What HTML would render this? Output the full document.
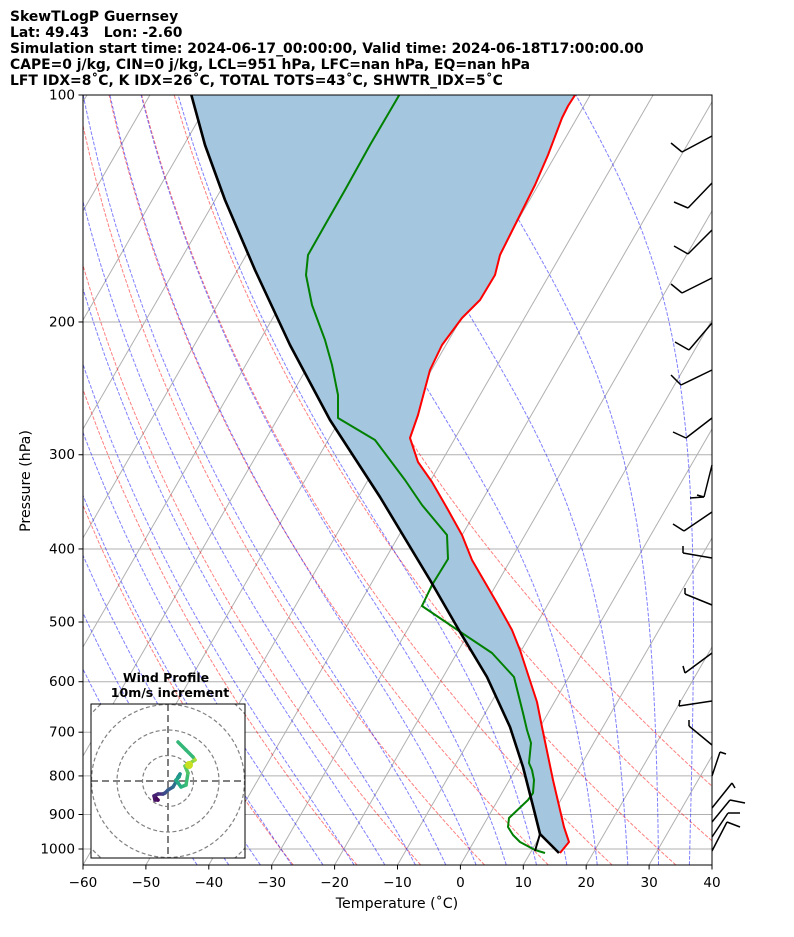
<!DOCTYPE html>
<html><head><meta charset="utf-8">
<style>
html,body{margin:0;padding:0;background:#fff;}
svg{display:block;font-family:"DejaVu Sans","Liberation Sans",sans-serif;}
text{white-space:pre;}
</style></head>
<body>
<svg id="s" width="794" height="937" viewBox="0 0 794 937" xmlns="http://www.w3.org/2000/svg">
<defs><clipPath id="pc"><rect x="83" y="95" width="629" height="770"/></clipPath>
<clipPath id="hc"><rect x="91" y="704" width="154" height="154"/></clipPath></defs>
<g font-weight="bold" font-size="13.9" fill="#000">
<text x="10" y="21">SkewTLogP Guernsey</text>
<text x="10" y="37" xml:space="preserve">Lat: 49.43   Lon: -2.60</text>
<text x="10" y="53">Simulation start time: 2024-06-17_00:00:00, Valid time: 2024-06-18T17:00:00.00</text>
<text x="10" y="69">CAPE=0 j/kg, CIN=0 j/kg, LCL=951 hPa, LFC=nan hPa, EQ=nan hPa</text>
<text x="10" y="85">LFT IDX=8˚C, K IDX=26˚C, TOTAL TOTS=43˚C, SHWTR_IDX=5˚C</text>
</g>
<g id="plot" clip-path="url(#pc)"></g>
<g id="over"></g>
</svg>
<script>
const NS="http://www.w3.org/2000/svg";
const plot=document.getElementById('plot'),over=document.getElementById('over');
function el(p,tag,a,txt){const e=document.createElementNS(NS,tag);for(const k in a)e.setAttribute(k,a[k]);if(txt!==undefined)e.textContent=txt;p.appendChild(e);return e;}
const Y=p=>95+754*Math.log10(p/100);
const X=(T,y)=>83+(T+60)*6.29+0.577*(865-y);
function pathPts(pts){return pts.map((q,i)=>(i?'L':'M')+q[0].toFixed(1)+' '+q[1].toFixed(1)).join(' ');}
for(let p=100;p<=1000;p+=100){const y=Y(p);el(plot,'line',{x1:83,x2:712,y1:y,y2:y,stroke:'#b0b0b0','stroke-width':1});}
for(let T=-200;T<=40;T+=10){el(plot,'line',{x1:X(T,865),y1:865,x2:X(T,95),y2:95,stroke:'#b0b0b0','stroke-width':1});}
const ps=[];for(let p=1050;p>=100;p-=10)ps.push(p);
for(let t0=-30;t0<=50;t0+=10){const th=t0+273.15;const pts=ps.map(p=>{const y=Y(p);return [X(th*Math.pow(p/1000,0.2857)-273.15,y),y];});
el(plot,'path',{d:pathPts(pts),fill:'none',stroke:'red','stroke-opacity':0.5,'stroke-width':1,'stroke-dasharray':'3.7,1.6'});}
function dTdp(p,T){const es=6.112*Math.exp(17.67*(T-273.15)/(T-29.65));const rs=0.622*es/(p-es);const Rd=287.04,Lv=2.501e6,Cp=1005.7;
return (Rd*T+Lv*rs)/p/(Cp+Lv*Lv*rs*0.622/(Rd*T*T));}
function moist(t0){let T=t0+273.15,p=1000;const up=[[p,T]];while(p>100){const h=-2;const k1=dTdp(p,T),k2=dTdp(p+h/2,T+h/2*k1);T+=h*k2;p+=h;up.push([p,T]);}
T=t0+273.15;p=1000;const dn=[];while(p<1050){const h=2;const k1=dTdp(p,T),k2=dTdp(p+h/2,T+h/2*k1);T+=h*k2;p+=h;dn.unshift([p,T]);}
return dn.concat(up).map(a=>{const y=Y(a[0]);return [X(a[1]-273.15,y),y];});}
for(let t0=-45;t0<=35;t0+=5){el(plot,'path',{d:pathPts(moist(t0)),fill:'none',stroke:'blue','stroke-opacity':0.5,'stroke-width':1,'stroke-dasharray':'3.7,1.6'});}
const temp=[[560,853],[569,842],[564,827],[553,780],[542,727],[537,702],[520,650],[512,630],[497,603],[472,560],[462,535],[447,508],[432,482],[418,462],[410,438],[418,415],[430,370],[442,345],[462,318],[480,300],[495,275],[500,255],[510,235],[520,215],[535,185],[548,155],[562,118],[568,106],[577,92]];
const parcel=[[559,853],[540,834],[534,810],[523,767],[510,727],[487,677],[460,632],[430,580],[380,497],[330,420],[290,345],[255,270],[225,200],[205,145],[190,90]];
const dew=[[545,853],[535,850],[520,842],[513,835],[508,827],[509,818],[528,800],[533,793],[534,780],[532,770],[529,763],[531,743],[527,730],[523,713],[514,677],[492,653],[462,633],[422,606],[432,585],[448,559],[447,535],[422,505],[405,480],[375,440],[338,418],[338,395],[332,365],[325,340],[312,305],[306,275],[308,255],[325,225],[345,190],[370,145],[401,92]];
el(plot,'path',{d:pathPts(temp.concat(parcel.slice().reverse()))+'Z',fill:'#a4c7df',stroke:'none'});
el(plot,'path',{d:pathPts(temp),fill:'none',stroke:'red','stroke-width':2,'stroke-linejoin':'round'});
el(plot,'path',{d:pathPts(dew),fill:'none',stroke:'green','stroke-width':2,'stroke-linejoin':'round'});
el(plot,'path',{d:pathPts(parcel),fill:'none',stroke:'black','stroke-width':2.6,'stroke-linejoin':'round'});
el(plot,'path',{d:'M540 834 L535 851',fill:'none',stroke:'black','stroke-width':2});
el(over,'rect',{x:83,y:95,width:629,height:770,fill:'none',stroke:'#000','stroke-width':1});
for(let T=-60;T<=40;T+=10){const x=83+(T+60)*6.29;el(over,'line',{x1:x,x2:x,y1:865,y2:869.5,stroke:'#000'});
el(over,'text',{x:x,y:887,'text-anchor':'middle','font-size':13.6},(T<0?'−'+(-T):''+T));}
for(let p=100;p<=1000;p+=100){const y=Y(p);el(over,'line',{x1:78.5,x2:83,y1:y,y2:y,stroke:'#000'});
el(over,'text',{x:75,y:y+4.5,'text-anchor':'end','font-size':13.6},''+p);}
el(over,'text',{x:397,y:908,'text-anchor':'middle','font-size':14.2},'Temperature (˚C)');
el(over,'text',{x:30,y:481,'text-anchor':'middle','font-size':14.2,transform:'rotate(-90 30 481)'},'Pressure (hPa)');
const barbs=[
[712,136,682,152,[[671,143]]],[712,183,688,208,[[674,202]]],[712,230,688,254,[[674,246]]],[712,278,682,293,[[671,284]]],
[712,323,689,350,[[675,342]]],[712,370,681,385,[[671,375]]],[712,418,686,438,[[673,432]]],[712,465,704,497,[[690,498],[697,495]]],
[712,512,684,531,[[673,524]]],[712,558,683,553,[[683,546]]],[712,605,685,594,[[685,588]]],[712,653,685,673,[[683,666]]],
[712,701,679,706,[[680,700]]],[712,745,689,726,[[689,720]]],[712,776,720,752,[[726,754]]],[712,808,732,783,[[735,788]]],
[712,822,730,800,[[745,803]]],[712,837,728,813,[[740,813]]],[712,851,727,822,[[740,827]]]];
barbs.forEach(b=>{el(over,'line',{x1:b[0],y1:b[1],x2:b[2],y2:b[3],stroke:'#000','stroke-width':1.5});
b[4].forEach(q=>el(over,'line',{x1:b[2],y1:b[3],x2:q[0],y2:q[1],stroke:'#000','stroke-width':1.5}));});
const h=el(over,'g',{});
el(h,'rect',{x:91,y:704,width:154,height:154,fill:'#fff',stroke:'none'});
const hg=el(h,'g',{'clip-path':'url(#hc)'});
[25.5,51,76.5,102].forEach(r=>el(hg,'circle',{cx:168,cy:781,r:r,fill:'none',stroke:'#808080','stroke-width':1.2,'stroke-dasharray':'4,2.5'}));
el(hg,'line',{x1:91,x2:245,y1:781,y2:781,stroke:'#808080','stroke-width':2,'stroke-dasharray':'7,4'});
el(hg,'line',{x1:168,x2:168,y1:704,y2:858,stroke:'#808080','stroke-width':2,'stroke-dasharray':'7,4'});
const hp=[[155,797],[158,800],[155,800],[154,796],[158,794],[163,794],[165,793],[168,790],[173,787],[176,782],[178,777],[180,774],[179,777],[176,780],[181,787],[186,785],[188,773],[185,766],[190,763],[195,760],[193,757],[186,750],[178,742]];
const cols=['#440154','#46085c','#471063','#482071','#46307e','#423f85','#3c4f8a','#355e8d','#2f6c8e','#2a788e','#25858e','#21918c','#1f9e89','#22a884','#2cb17e','#3dbc74','#52c569','#6ccd5a','#89d548','#a8db34','#c8e020','#e5e419','#2cb17e'];
for(let i=0;i<hp.length-1;i++){const c=i<hp.length-3?cols[Math.min(i,cols.length-1)]:'#35b779';
el(hg,'line',{x1:hp[i][0],y1:hp[i][1],x2:hp[i+1][0],y2:hp[i+1][1],stroke:c,'stroke-width':3.5,'stroke-linecap':'round'});}
el(hg,'circle',{cx:189,cy:765,r:4,fill:'#c8e020'});
el(h,'rect',{x:91,y:704,width:154,height:154,fill:'none',stroke:'#000','stroke-width':1});
el(h,'text',{x:166,y:682,'text-anchor':'middle','font-size':12.5,'font-weight':'bold'},'Wind Profile');
el(h,'text',{x:170,y:697,'text-anchor':'middle','font-size':12.5,'font-weight':'bold'},'10m/s increment');
</script>
</body></html>
